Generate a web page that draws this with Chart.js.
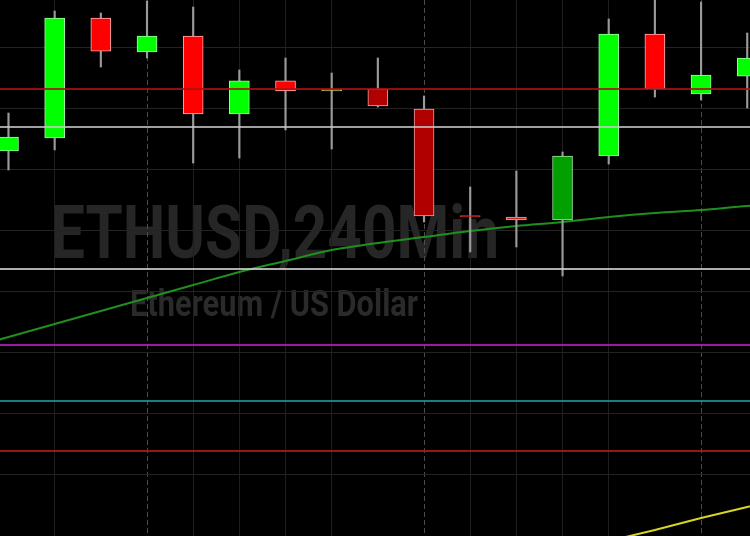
<!DOCTYPE html>
<html>
<head>
<meta charset="utf-8">
<script src="https://cdn.jsdelivr.net/npm/chart.js@4/dist/chart.umd.min.js"></script>
<style>
  html, body { margin: 0; padding: 0; background: #000; }
  #c { display: block; }
</style>
</head>
<body>
<canvas id="c" width="750" height="536"></canvas>
<script>
// candle index = 4h bar, prices (no axis shown, so units are relative)
const candleIdx = [0, 1, 2, 3, 4, 5, 6, 7, 8, 9, 10, 11, 12, 13, 14, 15, 16];
const openVals  = [191.56, 192.62, 202.46, 199.67, 200.98, 194.59, 197.30, 196.60, 196.64, 195.00, 186.27, 186.15, 185.90, 191.15, 201.15, 196.23, 197.70];
const highVals  = [194.67, 203.03, 202.87, 203.85, 203.36, 198.20, 199.18, 197.95, 199.18, 196.07, 188.61, 189.92, 191.48, 202.38, 204.10, 203.77, 201.23];
const lowVals   = [190.00, 191.64, 198.44, 199.18, 190.57, 190.98, 193.28, 191.72, 195.16, 185.74, 183.28, 183.69, 181.31, 190.49, 195.98, 195.74, 195.08];
const closeVals = [192.70, 202.46, 199.75, 200.98, 194.59, 197.30, 196.48, 196.48, 195.25, 186.23, 186.15, 185.90, 191.15, 201.15, 196.64, 197.79, 199.18];

// moving average, one value per bar from -1 to 17
const maIdx  = [-1, 0, 1, 2, 3, 4, 5, 6, 7, 8, 9, 10, 11, 12, 13, 14, 15, 16, 17];
const maVals = [175.25, 176.31, 177.38, 178.44, 179.51, 180.57, 181.64, 182.54, 183.44, 184.02, 184.51, 185.00, 185.41, 185.74, 186.15, 186.48, 186.72, 187.05, 187.30];

// yellow trend line
const trendIdx  = [13, 14, 15, 16, 17];
const trendVals = [159.59, 160.49, 161.48, 162.38, 163.28];

// horizontal levels
const levelVals = [196.64, 193.52, 181.88, 175.66, 171.07, 166.97];

// styles
const bodyColors = ['#00ff00', '#00ff00', '#ff0000', '#00ff00', '#ff0000', '#00ff00', '#ff0000', '#b4b45a',
  '#b00000', '#b00000', '#c81818', '#c82828', '#00a000', '#00ff00', '#ff0000', '#00ff00', '#00ff00'];
const bodyBorders = ['#9aff9a', '#9aff9a', '#ffb0b0', '#9aff9a', '#ffb0b0', '#9aff9a', '#ffb0b0', '#c8c870',
  '#e8a0a0', '#e8a0a0', '#d04040', '#f0a0a0', '#a0e0a0', '#9aff9a', '#ffb0b0', '#9aff9a', '#9aff9a'];
const levelColors = ['rgba(170,16,16,0.85)', 'rgba(200,200,200,0.8)', 'rgba(205,205,205,0.85)',
  'rgba(170,30,180,0.9)', 'rgba(30,140,140,0.9)', 'rgba(170,24,24,0.9)'];

const bodies = candleIdx.map((x, i) => ({ x: x, y: [openVals[i], closeVals[i]] }));
const wicks = candleIdx.map((x, i) => ({ x: x, y: [lowVals[i], highVals[i]] }));

const datasets = [];
levelVals.forEach((v, i) => {
  datasets.push({
    type: 'line',
    data: [{ x: -1, y: v }, { x: 17, y: v }],
    borderColor: levelColors[i],
    borderWidth: 2,
    pointRadius: 0,
    order: 0
  });
});
datasets.push({
  type: 'line',
  data: trendIdx.map((x, i) => ({ x: x, y: trendVals[i] })),
  borderColor: '#d6d624',
  borderWidth: 2,
  pointRadius: 0,
  order: 0
});
datasets.push({
  type: 'bar',
  data: bodies,
  backgroundColor: bodyColors,
  borderColor: bodyBorders,
  borderWidth: 1,
  borderSkipped: false,
  barThickness: 20,
  grouped: false,
  order: 1
});
datasets.push({
  type: 'bar',
  data: wicks,
  backgroundColor: '#9a9a9a',
  borderWidth: 0,
  barThickness: 1.5,
  grouped: false,
  order: 2
});
datasets.push({
  type: 'line',
  data: maIdx.map((x, i) => ({ x: x, y: maVals[i] })),
  borderColor: '#1f8f1f',
  borderWidth: 2,
  pointRadius: 0,
  cubicInterpolationMode: 'monotone',
  order: 3
});

// black background + watermark (drawn before grid)
const watermark = {
  id: 'watermark',
  beforeDraw(chart) {
    const c = chart.ctx;
    c.save();
    c.fillStyle = '#000';
    c.fillRect(0, 0, chart.width, chart.height);

    c.fillStyle = '#262626';
    c.textBaseline = 'alphabetic';
    c.font = 'bold 75px Roboto';
    let t = 'ETHUSD,240Min';
    let w = c.measureText(t).width;
    c.save();
    c.translate(51, 258);
    c.scale(448 / w, 1);
    c.fillText(t, 0, 0);
    c.restore();

    c.fillStyle = '#2a2a2a';
    c.font = 'bold 36px Roboto';
    t = 'Ethereum / US Dollar';
    w = c.measureText(t).width;
    c.save();
    c.translate(130, 316);
    c.scale(288 / w, 1);
    c.fillText(t, 0, 0);
    c.restore();
    c.restore();
  }
};

new Chart(document.getElementById('c'), {
  type: 'bar',
  data: { datasets: datasets },
  options: {
    responsive: false,
    animation: false,
    layout: { padding: 0 },
    plugins: { legend: { display: false }, tooltip: { enabled: false } },
    scales: {
      x: {
        type: 'linear',
        offset: false,
        min: -0.184,
        max: 16.06,
        ticks: { display: false, stepSize: 1, maxTicksLimit: 100 },
        grid: {
          offset: false,
          drawTicks: false,
          lineWidth: 1,
          color: ctx => {
            const v = ctx.tick ? ctx.tick.value : null;
            if (v === null || !Number.isInteger(v)) return 'rgba(0,0,0,0)';
            const m = ((v % 6) + 6) % 6;
            if (m === 2) return 'rgba(0,0,0,0)';
            if (m === 3) return '#4c4c4c';
            return '#1e1e1e';
          }
        },
        border: {
          display: false,
          dash: ctx => {
            const v = ctx.tick ? ctx.tick.value : null;
            return (Number.isInteger(v) && ((v % 6) + 6) % 6 === 3) ? [5, 3] : [];
          }
        }
      },
      y: {
        type: 'linear',
        min: 160,
        max: 203.934,
        ticks: { display: false, stepSize: 5, maxTicksLimit: 100 },
        grid: {
          drawTicks: false,
          lineWidth: 1,
          color: ctx => {
            const v = ctx.tick ? ctx.tick.value : null;
            if (v === null || Math.abs(v / 5 - Math.round(v / 5)) > 1e-6) return 'rgba(0,0,0,0)';
            return '#232323';
          }
        },
        border: { display: false }
      }
    }
  },
  plugins: [watermark]
});
</script>
</body>
</html>
